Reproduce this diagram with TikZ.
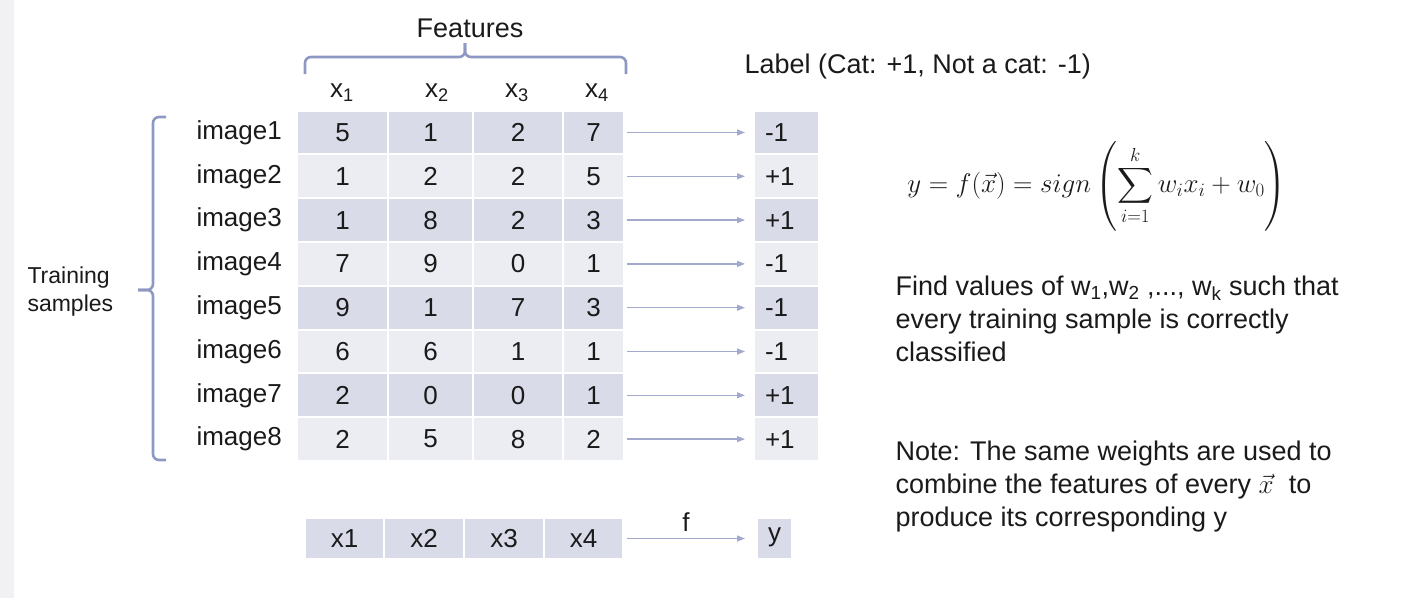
\RequirePackage{fix-cm}
\documentclass[tikz,border=0pt]{standalone}
\usepackage{amsmath}
\usepackage{exscale}
\usepackage{fontspec}
\setmainfont{Liberation Sans}
\usetikzlibrary{arrows.meta}
\definecolor{darkc}{HTML}{D9DBE8}
\definecolor{lightc}{HTML}{ECEDF3}
\definecolor{arrc}{HTML}{A3A9CD}
\definecolor{bracec}{HTML}{8D98C3}
\definecolor{txtc}{HTML}{1A1A1A}
\definecolor{stripc}{HTML}{F1F1F3}
\begin{document}
\begin{tikzpicture}[x=1pt,y=-1pt,
  every node/.style={text=txtc},
  tabfont/.style={font=\fontsize{26}{31}\selectfont},
  bigfont/.style={font=\fontsize{27}{33}\selectfont},
  cellbox/.style={tabfont, draw=white, line width=2pt, inner sep=0pt, minimum height=44pt},
  labbox/.style={tabfont, draw=white, line width=2pt, inner xsep=11pt, inner ysep=0pt, minimum height=44pt, text width=43pt, align=left},
  botbox/.style={tabfont, draw=white, line width=2pt, inner sep=0pt, minimum height=41pt, fill=darkc},
  conn/.style={draw=arrc, line width=1.4pt, -{Triangle[length=8pt,width=6pt]}},
  bracestyle/.style={draw=bracec, line width=2.6pt, rounded corners=6pt}
]
\useasboundingbox (0,0) rectangle (1420,598);
\fill[stripc] (0,0) rectangle (14,598);

% headers
\node[bigfont] (feat) at (470,28) {Features};
\node[bigfont, anchor=west] (labhead) at (741,67) {Label (Cat: +1, Not a cat: -1)};
\node[tabfont] (hx1) at (342,93) {x\textsubscript{1}};
\node[tabfont] (hx2) at (437,93) {x\textsubscript{2}};
\node[tabfont] (hx3) at (517,93) {x\textsubscript{3}};
\node[tabfont] (hx4) at (597,93) {x\textsubscript{4}};

% braces
\draw[bracestyle] (305,74) -- (305,57) -- (465,57) -- (465,43);
\draw[bracestyle] (465,43) -- (465,57) -- (626,57) -- (626,74);
\draw[bracestyle] (166,117) -- (153,117) -- (153,290) -- (138,290);
\draw[bracestyle] (138,290) -- (153,290) -- (153,460) -- (166,460);

\node[font=\fontsize{23}{28}\selectfont, anchor=west, align=left] (train) at (24,292) {Training\\samples};

% table
\foreach \nm/\a/\b/\c/\d/\l/\f [count=\i] in {
  image1/5/1/2/7/-1/darkc,
  image2/1/2/2/5/+1/lightc,
  image3/1/8/2/3/+1/darkc,
  image4/7/9/0/1/-1/lightc,
  image5/9/1/7/3/-1/darkc,
  image6/6/6/1/1/-1/lightc,
  image7/2/0/0/1/+1/darkc,
  image8/2/5/8/2/+1/lightc}{
  \pgfmathsetmacro{\yy}{132.5+43.8*(\i-1)}
  \node[tabfont, anchor=west] (img\i) at (193,\yy) {\nm};
  \node[cellbox, fill=\f, minimum width=91pt] (ca\i) at (342.5,\yy) {\a};
  \node[cellbox, fill=\f, minimum width=85pt] (cb\i) at (430.5,\yy) {\b};
  \node[cellbox, fill=\f, minimum width=90pt] (cc\i) at (518,\yy) {\c};
  \node[cellbox, fill=\f, minimum width=61pt] (cd\i) at (593.5,\yy) {\d};
  \node[labbox, fill=\f] (lab\i) at (786.5,\yy) {\l};
  \draw[conn, shorten <=2pt, shorten >=8pt] (cd\i.east) -- (lab\i.west);
}

% bottom row
\node[botbox, minimum width=79pt] (bx1) at (344.5,538.5) {x1};
\node[botbox, minimum width=80pt] (bx2) at (424,538.5) {x2};
\node[botbox, minimum width=80pt] (bx3) at (504,538.5) {x3};
\node[botbox, minimum width=79pt] (bx4) at (583.5,538.5) {x4};
\node[botbox, minimum width=35pt, text height=12pt, text depth=7pt] (by) at (774.5,538.5) {y};
\draw[conn, shorten <=3pt, shorten >=11pt] (bx4.east) -- (by.west);
\node[tabfont] (flab) at (686,522) {f};

% formula
\node[font=\fontsize{27}{33}\selectfont] (formula) at (1097,186)
  {$\displaystyle y = f(\vec{x}) = sign\left(\sum_{i=1}^{k} w_i x_i + w_0\right)$};

% texts
\node[bigfont, anchor=west, align=left] (find) at (892,319)
  {Find values of w\textsubscript{1},w\textsubscript{2} ,..., w\textsubscript{k} such that\\every training sample is correctly\\classified};
\node[bigfont, anchor=west, align=left] (note) at (892,487)
  {Note: The same weights are used to\\combine the features of every $\vec{x}$\ \ to\\produce its corresponding y};
\end{tikzpicture}
\end{document}
